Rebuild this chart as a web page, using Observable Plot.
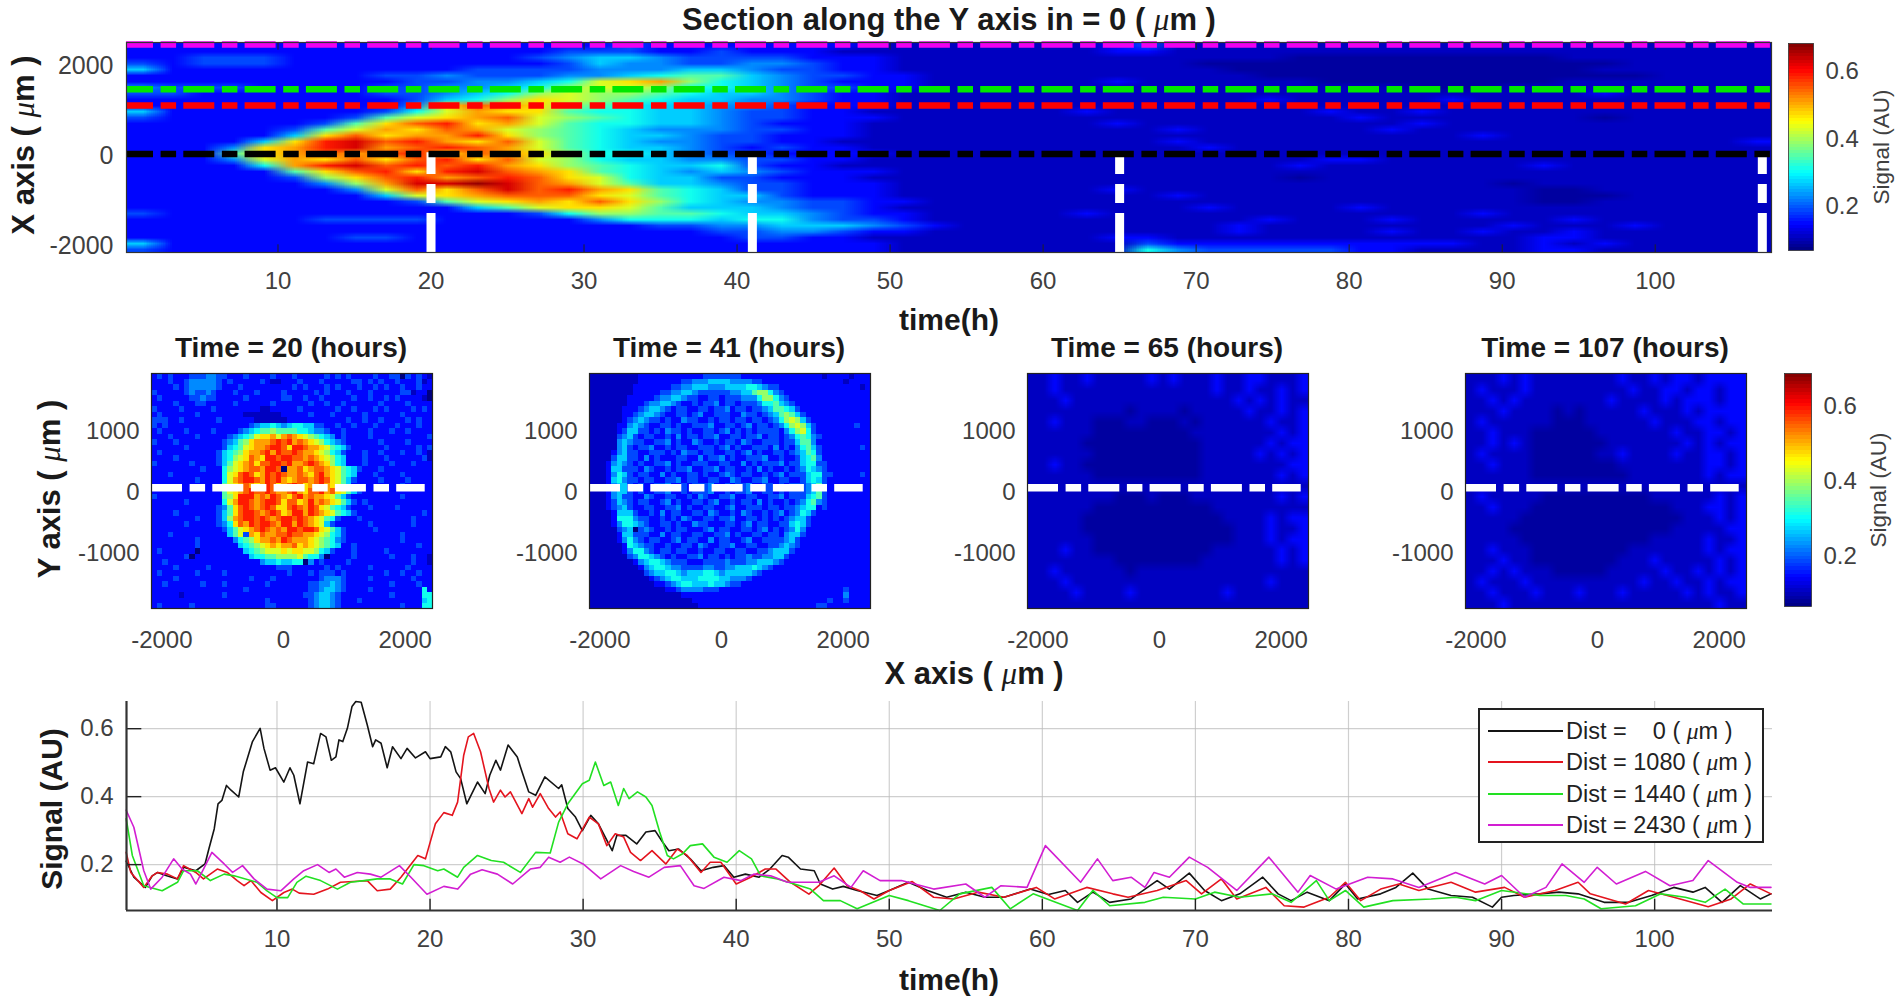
<!DOCTYPE html>
<html><head><meta charset="utf-8">
<script src="https://cdn.jsdelivr.net/npm/d3@7"></script>
<script src="https://cdn.jsdelivr.net/npm/@observablehq/plot@0.6"></script>
<style>
html,body{margin:0;padding:0;background:#fff;width:1902px;height:1005px;overflow:hidden;font-family:"Liberation Sans",Arial,sans-serif}
#root{position:relative;width:1902px;height:1005px}
.lab{position:absolute;white-space:pre;transform:translate(-50%,-50%);color:#1a1a1a;line-height:1}
.rot{transform:translate(-50%,-50%) rotate(-90deg)}
.mu{font-family:"Liberation Serif",serif;font-style:italic;font-weight:normal}
.soft image{filter:blur(.7px)}
</style></head><body><div id="root"></div>
<script>
// ---------- data ----------
const timeTicks=[10,20,30,40,50,60,70,80,90,100];
const sectionTimes=[20,41,65,107];
const distances=[0,1080,1440,2430];
const distanceColors=["#000000","#ff0000","#00e800","#f000f0"];
const signalTicks=[0.2,0.4,0.6];
const panelXTicks=[-2000,0,2000];
const panelYTicks=[-1000,0,1000];
const sectionYTicks=[-2000,0,2000];
// one digit per cell: the signal level of that cell, see levelOf()
const sectionRows=[
"222222222222222232222222111111112311111111111111111111",
"222222222222223332232221111111112211111111111111111111",
"22333222222223455433332221111111111111zzzzzzzzz1111111",
"32333222222222354433443221111111111zzzzzzzzzzzzzz11111",
"52222222222333344455433221111111111 1zzzzzzzzzzzz11111",
"2222222233433344567754332211111111111zzzzzzzzzzzzz1111",
"22222222233445 69AB865432221111112111111zzzzzzzz1111111",
"433322223344568998665433221111111111111111zzz111111111",
"332222223345689887 6554322111111111111111111111112111",
"222222222356 8A987655443221111111111112111112111111111",
"2222222224ACBA8765544322211111111111111111111111111111",
"522222223 69BAA7665543322111111121111111211211111111111",
"32222223 79ABC98765543322211111111111111121111111z1111",
"222222 37ACDAB976655432221111111121111111112111111111",
"22222379BACB987654443322111111111121111112111111111111",
"222225ACABBDA876554332221111111111111111111121111111",
"22225ADECDBAC976544332211111111111211111111111111111121",
"2224ABDEBCDCB976554323221111111111121111111111111111",
"2227ABCBCDACBA866543322221111111111111111111111111111",
"22249BACACDAC98655443322111111111111111221111111111",
"22226BDECDCDBA87655 63221111111111111112111111121111",
"222227ACDADECBA765454322211111111111111111111111111",
"22222 38ACDBCDCA96553322211111111111111z1111111111111",
"22222248BEEFECB975543322211111111111111111111z1111111",
"222222249CACECDBA76533222111111121111111111111zz11111",
"2222222259ABCCCA976553222111111111211111111111zzz1111",
"222222222379ABACA86544332211111111111111111111zz11111",
"22222222222579AA975554332111111111121111211111111111",
"3222222222222368877655432211111211111111111121111111111",
"222222333322222466656643321111111111121112111112111",
"222222222222222223344555432111111111211111111211121111",
"22222222222222222223344322111111111121111211211211111",
"222222233222222222223322111111112211111111111122111111",
"522222222222222222222222211111111322222222221121211111",
"322222222222222222222222211111111643333322111122111111"];
const time20Rows=[
"2323222333443322232222322232222232323222232233032321",
"2223223444443232222232112223222322222332323223222312",
"2222323444443222322222222232322232322232232322322322",
"3222223433432223222322223222223232223222322222331220",
"2322222334332222232222223322322322222322322323222210",
"2222322233222223222222322222232232232222223222232222",
"3222232222232222222211222223222222322322232322223232",
"2322222232222222211111112222232223222223222222322222",
"3332232222223222222111111222222222223223223222232322",
"3232222222222222223455654566553322322322232223222322",
"2322223222232222345677877776654432232222322232232222",
"222322223222223 4567 9AAB9BCBA98765 4232222322222222223",
"32223222222223 4578ABBBCDCDBCBA98654 32222223222232222",
"22222232222223 5679ABBCDDCADDCBBA9765 3222222322222323",
"2322222222223 5678ABBCDBDCCDCBBA9865 3222322322232232",
"2222322222223 5689ACBADDCDDCCBCBA9865 222322232222223",
"3222222322223 579ABCACCDDCDBBCDCBA865 2223222232223222",
"2222222223222 689ABCCBDDC0BBCABCCBA9765 322232222222222",
"2223222222222 69ACDCABDCDCBBCBACDBA9765 222322223222222",
"2222222232222 69BCDDCBDCDBABCCBCDCA9753 222232222322222",
"2222222222222 79ABCBABDCABCDCABCDBA9752 222222223222222",
"2222222222222 79ABCDCCDCBBCDBACCDBCA975 322222222222222",
"3222222222222 78ADDDBCBDCBACDBCBBA9753 2222222223222222",
"2222223222222 69BDDCBCDDCACCABDBCBA9753 232222222222222",
"2222222222223 47ACDCBCDCAACDCBDCA9765 3222322223222222",
"2222322222223 57ACDDCBCDCABDDBDCBA976 5322222222222232",
"2222222232223 58BCDDCDCBCDDCDCBA9763 22232222222223222",
"2222223222223 46ACBDCDDCBDDBDCBA953 222222322222223222",
"22222222222223579ABCDCBCBDDCDDCA97532222232222222222",
"222322222222225793BACBBCCDCCBBA986532222222222322222",
"2222222232222224678ABBCBDCBBBA9876432222222222322222",
"222222223222222256789ABABBCABA9876522322222222222322",
"232222220222222225678999A9AA998653222322222322222222",
"222222302222222222566778888976640222232222223222322",
"223222222222222222224556556604232222322222222222322",
"2222322222322222222222233322222232322222322222232222",
"2322222232222322222222222322232333232222222322322322",
"2222322222222222223222322222222344432222322222223222",
"2232222223222322222223222222233445432222222232222322",
"2222222222222222232222222222233455432222322222222262",
"2222212222222322222222222222334554322222222232222266",
"2222222222222222222223222222234554322232222222222256",
"2322222322222222222223322222234554322222222222322266"];
const time41Rows=[
"1111111112222222222223333333222222222222222122221222",
"1111111112222222233444555544443322222222222222212222",
"1111111122222223344555444555566543322222222222222212",
"1111111122222334455433333344557886432222222222222222",
"1111111222223445543322332333444688643222222222222222",
"1111111222344554322323342332333466754322222222222222",
"1111112223455432332233233423323345776532222222222222",
"1111112234554322332342233322433234578753222222222222",
"1111112345433232243322323323323323468985322222222222",
"1111122454322332322333422332342332346898532222222322",
"1111123553323243323223323423232333324689632222222222",
"1111134532332232423323342233233423323467643222222222",
"1111145433223342322432232332432233323357742222222222",
"1111145323342232332233323423223332423246753222222232",
"1111245332233323243323322332342322332345763222222222",
"1111355332423222332242334232233342232235674222222222",
"1112454323223342322333223322423233342335663322222222",
"1112553332432232334223342332232423223234654322222222",
"1112465323322423223323223432332232342333566332222232",
"1112564332332233423322332243223342233223565322222222",
"1112455323223342232333422323342233232333457322222222",
"1112455323223342232333422323342233232333457322222222",
"1112453322432233223243223342233223342333567322222222",
"1112354323322342322332342232332423223234674322222222",
"1112345322332233423223322342233323323345662322222222",
"1111255532232423322332432232432232342346532222222222",
"1111266643322323243223323342233232323455322222222222",
"1111246654322332322433222332342332233565322222222222",
"1111134503432232332223423322332342323464222222222222",
"1111125533322423322332233423223323324553222222222222",
"1111124643233223423322423322342233334532222222222222",
"1111112654332232233243223342233223345432222222222222",
"1111112466432332332232233223322334555322222222222222",
"1111111346654323223342332323343344553222222222222222",
"1111111124566543332223333433344555432222222222222222",
"1111111112456654433334433445556543222222222222222222",
"1111111111345566545556654555554322222222222222222222",
"1111111111123456655566665544432222222222222222222222",
"1111111111112234566555655433222222222222222222222222",
"1111111111111122344443332222222222222222222222232222",
"1111111111111111122222222222222222222222222222242222",
"1111111111111111111222222222222222222222222232232222",
"1111111111111111111122222222222222222222223322222222"];
const time65Rows=[
"11211211111212111211221112",
"11211111111111111211211212",
"11121111111111111112121211",
"111111111z1111z11111211212",
"112111zzz11zzz1z1111112112",
"111111zzzzzzzzz11111111212",
"11111zzzzzzzzzzz1111112122",
"111111zzzzzzzzzz1111121212",
"11211zzzzzzzzzzz1111111122",
"111111zzzzzzzzzz1111111212",
"11111111111111111111111111",
"11111111zzz1zzz11111111212",
"111111zzzzzzzzzzz111111111",
"11111zzzzzzzzzzzzz11112122",
"11111zzzzzzzzzzzzzz1112112",
"111111zzzzzzzzzzzzz1112122",
"111211zzzzzzzzzzz111111212",
"11111111zzzzzzzz1111111212",
"112111111z1111111111111111",
"11121111111111111111112111",
"11112111121111111121111111",
"11111111111111111111111111"];
const time107Rows=[
"11121211111111211212212222",
"12111211111111121122122122",
"11212111111112111121222122",
"11121111z1z111112111212222",
"12111111zzz111111211122122",
"112111zzzzzz11111112112212",
"112121zzzzzzz1111111212122",
"121111zzzzzz11211112112212",
"112111zzzzzzzz111111112212",
"111111zzzzzzzzz11111112122",
"11111111111111111111111111",
"1211111zzzzzzzzzz111111212",
"112111zzzzzzzzzzzzz1112212",
"11111zzzzzzzzzzzzzzz111212",
"1111zzzzzzzzzzzzzzz1111122",
"11111zzzzzzzzzzzz111112112",
"112111zzzzzzzzz11111112122",
"111211zzzzzzzz111211111212",
"11212111zzzzz1111121121212",
"12111211111111112112112122",
"11211121112111211111212112",
"11121111111111111111111211"];
// [time (h), signal (AU)]
const dist0=[[.15,.21],[.65,.163],[1.4,.133],[1.85,.167],[2.2,.177],[2.8,.167],[3.5,.158],[3.9,.192],[4.7,.182],[5.3,.202],[5.55,.246],[5.9,.305],[6.15,.379],[6.4,.389],[6.7,.433],[7,.419],[7.5,.399],[7.8,.473],[8.4,.562],[8.9,.601],[9.15,.542],[9.55,.478],[9.9,.485],[10.45,.443],[10.85,.485],[11.1,.463],[11.5,.379],[12,.502],[12.4,.497],[12.85,.586],[13.2,.576],[13.55,.507],[13.85,.517],[14.05,.567],[14.3,.562],[14.6,.601],[14.9,.665],[15.15,.68],[15.5,.678],[15.9,.611],[16.25,.547],[16.45,.567],[16.8,.557],[17.2,.485],[17.55,.547],[18.1,.512],[18.5,.542],[19.05,.514],[19.7,.532],[20,.512],[20.7,.517],[21,.547],[21.35,.532],[21.7,.473],[22,.453],[22.4,.379],[23.1,.443],[23.6,.409],[23.9,.463],[24.3,.507],[24.6,.478],[25.1,.552],[25.7,.517],[25.9,.488],[26.45,.414],[26.9,.404],[27.5,.458],[28.4,.424],[28.6,.435],[29,.365],[29.5,.34],[29.95,.3],[30.5,.345],[31,.32],[31.9,.241],[32.2,.286],[32.8,.286],[33.5,.261],[34.1,.296],[34.7,.3],[35.2,.266],[35.6,.241],[36.25,.246],[37,.217],[37.7,.182],[38.5,.192],[39.2,.197],[39.85,.163],[40.6,.172],[41.5,.163],[42.2,.187],[43,.227],[43.4,.222],[44.2,.187],[45.1,.182],[45.5,.143],[46.3,.128],[47,.136],[47.9,.124],[49.2,.109],[50,.124],[51.25,.148],[52.5,.124],[53.75,.104],[55,.119],[56.25,.104],[57.5,.104],[59.2,.128],[60.4,.112],[61.5,.124],[62.3,.089],[63.3,.119],[64.4,.089],[65.8,.099],[67.5,.153],[68.3,.128],[69.6,.175],[70.6,.124],[71.7,.094],[72.9,.114],[74.4,.163],[75.4,.114],[76.25,.094],[77.3,.119],[78.75,.094],[79.8,.143],[80.6,.099],[82.1,.114],[83.1,.133],[84.2,.175],[85.2,.128],[86.7,.109],[88.1,.104],[89.4,.075],[90,.104],[90.8,.109],[92.5,.114],[93.75,.119],[95,.114],[96.7,.089],[98.3,.089],[99.8,.109],[101.25,.133],[102.5,.119],[103.3,.133],[104.4,.089],[105.6,.138],[106.9,.099],[107.6,.114]];
const dist1080=[[.15,.236],[.45,.177],[1.3,.133],[1.85,.167],[2.2,.177],[2.85,.172],[3.5,.158],[3.9,.197],[4.7,.177],[5.2,.158],[6.1,.187],[6.75,.177],[7.4,.153],[7.85,.138],[8.3,.153],[8.95,.118],[9.7,.094],[10.45,.118],[11,.128],[11.45,.116],[12.4,.113],[13.3,.128],[14.15,.148],[15.25,.151],[15.9,.153],[16.55,.123],[17.4,.128],[18.1,.163],[19.2,.227],[19.7,.217],[20.35,.32],[20.9,.353],[21.45,.345],[21.8,.384],[22.2,.522],[22.5,.576],[22.85,.586],[23.3,.532],[23.85,.424],[24.15,.384],[24.6,.419],[24.9,.399],[25.25,.414],[26,.35],[26.45,.394],[26.7,.369],[27.2,.409],[27.75,.365],[28.2,.34],[28.5,.355],[29,.291],[29.6,.276],[30.4,.34],[31,.32],[31.55,.256],[32.1,.291],[32.65,.281],[33.1,.236],[33.75,.212],[34.5,.241],[35.4,.202],[36.15,.246],[36.8,.227],[37.7,.177],[38.3,.207],[39,.207],[40,.143],[40.95,.163],[41.9,.187],[42.6,.187],[43.55,.148],[44.75,.113],[45.4,.138],[46.4,.19],[47.25,.138],[48.1,.123],[49,.099],[50,.124],[51.5,.15],[52.9,.104],[54.2,.099],[55.8,.119],[57.5,.104],[59.6,.133],[60.8,.099],[62.9,.133],[64.6,.114],[65.6,.104],[67.5,.124],[69.4,.153],[70.4,.114],[71.7,.158],[72.7,.099],[74.6,.133],[75.8,.079],[77.1,.075],[78.75,.104],[79.8,.148],[80.8,.094],[82.1,.128],[83.3,.143],[84.6,.124],[86.7,.148],[88.3,.119],[90.2,.133],[91.5,.104],[93.5,.124],[95,.148],[95.8,.114],[98.1,.084],[99.6,.124],[101.25,.104],[103.5,.076],[105,.099],[106.25,.143],[107.6,.114]];
const dist1440=[[.15,.335],[.55,.227],[1.3,.138],[2.5,.123],[3.5,.148],[3.9,.182],[4.8,.182],[5.65,.153],[6.55,.172],[7.2,.167],[8.7,.148],[9.35,.123],[10,.103],[10.7,.103],[11.3,.148],[11.9,.166],[12.85,.153],[13.95,.128],[14.8,.148],[15.7,.153],[16.55,.158],[17.4,.158],[18.2,.143],[18.95,.2],[19.6,.197],[20.5,.182],[20.9,.187],[21.8,.163],[22.2,.192],[23.1,.227],[24,.212],[24.8,.207],[25.9,.177],[26.9,.236],[27.85,.234],[28.4,.325],[29,.379],[29.95,.438],[30.4,.448],[30.8,.502],[31.35,.433],[31.8,.443],[32.3,.374],[32.65,.424],[33,.394],[33.55,.414],[34.1,.399],[34.5,.374],[35,.296],[35.5,.227],[35.9,.217],[36.5,.232],[37,.256],[37.8,.261],[38.55,.222],[39.4,.207],[40.2,.241],[41,.217],[41.6,.167],[42.7,.158],[43.8,.143],[44.85,.128],[45.7,.094],[46.8,.094],[47.9,.07],[50,.109],[51.25,.094],[53.3,.065],[54.6,.114],[56.7,.133],[57.9,.07],[59.4,.114],[62.3,.065],[63.3,.124],[64.4,.079],[66.7,.089],[67.9,.104],[70,.099],[71.25,.119],[72.9,.104],[75,.114],[76.25,.089],[77.9,.153],[78.75,.094],[79.8,.124],[81,.075],[82.9,.094],[85.4,.099],[87,.104],[88.3,.094],[90,.124],[92.5,.109],[94.2,.109],[95.4,.099],[96.5,.07],[98.75,.079],[100.4,.114],[102,.104],[103.3,.089],[104.6,.128],[105.8,.084],[107.6,.084]];
const dist2430=[[.15,.36],[.65,.31],[1.3,.182],[1.75,.128],[2.5,.163],[3.25,.217],[3.8,.187],[4.35,.172],[4.7,.143],[5.2,.187],[5.75,.236],[6.55,.202],[7.1,.177],[7.75,.197],[8.5,.158],[9.35,.128],[10.25,.123],[11.1,.158],[11.75,.182],[12.65,.2],[13.4,.177],[13.85,.187],[14.4,.163],[15.25,.177],[16.1,.172],[16.8,.163],[18,.197],[18.75,.163],[19.8,.113],[20.9,.136],[21.8,.128],[22,.138],[22.65,.172],[23.4,.185],[24.4,.172],[25.4,.143],[26.55,.187],[27.2,.192],[27.75,.222],[28.5,.207],[29.1,.222],[30,.202],[31.15,.158],[32.45,.197],[33.3,.18],[34.3,.163],[35.3,.192],[36.35,.197],[37.25,.138],[37.9,.13],[39.2,.163],[40.3,.153],[41.15,.172],[42.25,.167],[43.35,.148],[44.6,.148],[45.4,.148],[46.4,.167],[47.5,.133],[48.3,.182],[49.4,.153],[50.8,.153],[52.9,.128],[55,.143],[56.25,.104],[57.3,.138],[59,.133],[60.2,.256],[62.5,.148],[63.6,.217],[64.6,.153],[65.8,.163],[66.7,.133],[67.3,.177],[68.3,.163],[69.6,.222],[70.8,.192],[72.7,.124],[74.8,.222],[76.7,.119],[77.5,.168],[79.2,.128],[81.25,.163],[82.9,.158],[84.6,.133],[87,.177],[88.9,.143],[90,.168],[91.5,.104],[92.9,.133],[93.95,.202],[95.4,.148],[96.25,.192],[97.5,.143],[99.4,.18],[101,.138],[102.5,.153],[103.5,.212],[105.4,.148],[106.25,.133],[107.6,.133]];

// ---------- helpers ----------
const root=document.getElementById("root");
const levelOf=c=>c==="z"?0.09:0.07+parseInt(c,16)*0.04;
function grid(rows,w){const out=[];for(const r of rows){const s=r.replace(/\s/g,"").padEnd(w,"1").slice(0,w);for(const c of s)out.push(levelOf(c));}return out;}
const jet={type:"linear",domain:[.07,.147,.30,.453,.606,.683],range:["#00007f","#0000ff","#00ffff","#ffff00","#ff0000","#7f0000"],clamp:true};
const FONT='"Liberation Sans",Arial,sans-serif';
const TICK="#404040";
function place(box,opts){
  const ml=100,mr=70,mt=8,mb=50;
  const svg=Plot.plot({width:box[2]-box[0]+ml+mr,height:box[3]-box[1]+mt+mb,marginLeft:ml,marginRight:mr,marginTop:mt,marginBottom:mb,
    style:{position:"absolute",left:(box[0]-ml)+"px",top:(box[1]-mt)+"px",fontFamily:FONT,background:"transparent",overflow:"visible",maxWidth:"none",height:(box[3]-box[1]+mt+mb)+"px"},...opts});
  root.appendChild(svg);return svg;
}
function label(html,x,y,size,o={}){
  const d=document.createElement("div");d.className="lab"+(o.rot?" rot":"");d.innerHTML=html;
  d.style.left=x+"px";d.style.top=y+"px";d.style.fontSize=size+"px";d.style.fontWeight=o.weight||"bold";if(o.color)d.style.color=o.color;root.appendChild(d);
}
const MU='<span class="mu">μ</span>m';
const fmt=d=>String(d);
const axisFont={fontSize:24,color:TICK,tickSize:0,label:null,tickFormat:fmt};
const DASH="31 7.6 15.5 7.2";

// ---------- top section heatmap ----------
const tDomain=[0.1,107.6], secY=[-2138,2522];
place([126,42,1771,252],{
  x:{domain:tDomain},y:{domain:secY},color:jet,
  marks:[
    Plot.raster(grid(sectionRows,54),{width:54,height:sectionRows.length,x1:tDomain[0],x2:tDomain[1],y1:secY[1],y2:secY[0],fill:d=>d}),
    Plot.ruleX(timeTicks,{y1:secY[0],y2:secY[0]+170,stroke:"#222",strokeWidth:1}),
    Plot.ruleX(timeTicks,{y1:secY[1],y2:secY[1]-170,stroke:"#222",strokeWidth:1}),
    Plot.ruleX(sectionTimes,{y1:secY[0],y2:75,stroke:"#fff",strokeWidth:9,strokeDasharray:"39 10 19 10"}),
    ...distances.map((d,i)=>Plot.ruleY([d+45],{stroke:distanceColors[i],strokeWidth:6.5,strokeDasharray:DASH,strokeDashoffset:4})),
    Plot.frame({stroke:"#333",strokeWidth:1.2}),
    Plot.axisX(timeTicks,{...axisFont,tickPadding:19.5}),
    Plot.axisY(sectionYTicks,{...axisFont,fontSize:25,tickPadding:13})
  ]});
// ---------- colour bars ----------
const barValues=d3.range(64).map(i=>0.683-(i+.5)*(0.613/64));
function colorbar(box,dom){
  place(box,{x:{domain:[0,1],axis:null},y:{domain:dom},color:jet,marks:[
    Plot.raster(barValues,{width:1,height:64,x1:0,x2:1,y1:dom[1],y2:dom[0],fill:d=>d,imageRendering:"pixelated"}),
    Plot.frame({stroke:"#333",strokeWidth:.8}),
    Plot.axisY(signalTicks,{...axisFont,anchor:"right",tickPadding:12,tickFormat:d=>d.toFixed(1)})
  ]});
}
colorbar([1788,43,1813,250],[.07,.683]);
colorbar([1784,373,1811,606],[.067,.688]);

// ---------- four time panels ----------
const panelX=[-2170,2450],panelY=[-1907,1946];
const panels=[
 {box:[150.5,372.5,431.5,607.5],rows:time20Rows,w:52,r:"pixelated"},
 {box:[588.5,372.5,869.5,607.5],rows:time41Rows,w:52,r:"pixelated"},
 {box:[1026.5,372.5,1307.5,607.5],rows:time65Rows,w:26,r:"auto"},
 {box:[1464.5,372.5,1745.5,607.5],rows:time107Rows,w:26,r:"auto"}];
panels.forEach(p=>{
  const svg=place(p.box,{x:{domain:panelX},y:{domain:panelY},color:jet,marks:[
    Plot.raster(grid(p.rows,p.w),{width:p.w,height:p.rows.length,x1:panelX[0],x2:panelX[1],y1:panelY[1],y2:panelY[0],fill:d=>d,imageRendering:p.r}),
    Plot.ruleY([72],{x1:panelX[0],x2:2330,stroke:"#fff",strokeWidth:7.5,strokeDasharray:DASH}),
    Plot.frame({stroke:"#222",strokeWidth:1.2}),
    Plot.axisX(panelXTicks,{...axisFont,tickPadding:22.5}),
    Plot.axisY(panelYTicks,{...axisFont,tickPadding:12})
  ]});
  svg.classList.add("soft");
});

// ---------- signal curves ----------
const lineX=[0.17,107.7],lineY=[0.065,0.68];
const series=[dist0,dist1080,dist1440,dist2430];
const lineColors=["#141414","#e4141e","#22e022","#d21ed2"];
place([126,701,1772,910],{
  x:{domain:lineX},y:{domain:lineY},
  marks:[
    Plot.gridX(timeTicks,{stroke:"#bbb",strokeOpacity:.7,strokeWidth:1.2}),
    Plot.gridY(signalTicks,{stroke:"#bbb",strokeOpacity:.7,strokeWidth:1.2}),
    ...series.map((s,i)=>Plot.line(s,{x:"0",y:"1",stroke:lineColors[i],strokeWidth:1.6,curve:"linear"})),
    Plot.ruleX(timeTicks,{y1:lineY[0],y2:lineY[0]+.033,stroke:"#222",strokeWidth:1.4}),
    Plot.ruleY(signalTicks,{x1:lineX[0],x2:lineX[0]+1,stroke:"#222",strokeWidth:1.4}),
    Plot.ruleX([lineX[0]],{stroke:"#333",strokeWidth:2.2}),
    Plot.ruleY([lineY[0]],{stroke:"#333",strokeWidth:2.2}),
    Plot.axisX(timeTicks,{...axisFont,tickPadding:19.5}),
    Plot.axisY(signalTicks,{...axisFont,tickPadding:13,tickFormat:d=>d.toFixed(1)})
  ]});

// ---------- texts ----------
label(`Section along the Y axis in = 0 ( ${MU} )`,949,19,31);
label(`X axis ( ${MU} )`,23,145,31,{rot:true});
label("time(h)",949,320,30);
sectionTimes.forEach((t,i)=>label(`Time = ${t} (hours)`,[291,729,1167,1605][i],348,28));
label(`Y axis ( ${MU} )`,49,489,31,{rot:true});
label(`X axis ( ${MU} )`,974,673,31);
label("Signal (AU)",52,809,30,{rot:true});
label("time(h)",949,980,30);
label("Signal (AU)",1882,147,22.5,{rot:true,weight:"normal",color:TICK});
label("Signal (AU)",1879,490,22.5,{rot:true,weight:"normal",color:TICK});

// ---------- legend ----------
const legend=document.createElement("div");
legend.style.cssText="position:absolute;left:1478px;top:708px;width:282px;height:131px;background:#fff;border:2px solid #222";
const legendTexts=["Dist =    0 ( ","Dist = 1080 ( ","Dist = 1440 ( ","Dist = 2430 ( "];
const legendY=[22,53,85,116];
legendTexts.forEach((t,i)=>{
  const ln=document.createElement("div");
  ln.style.cssText=`position:absolute;left:8px;width:75px;height:2px;top:${legendY[i]-2}px;background:${lineColors[i]}`;
  legend.appendChild(ln);
  const tx=document.createElement("div");
  tx.style.cssText=`position:absolute;left:86px;top:${legendY[i]}px;transform:translateY(-50%);font-size:23.5px;line-height:1;white-space:pre;color:#222`;
  tx.innerHTML=t+MU+" )";
  legend.appendChild(tx);
});
root.appendChild(legend);
</script></body></html>
